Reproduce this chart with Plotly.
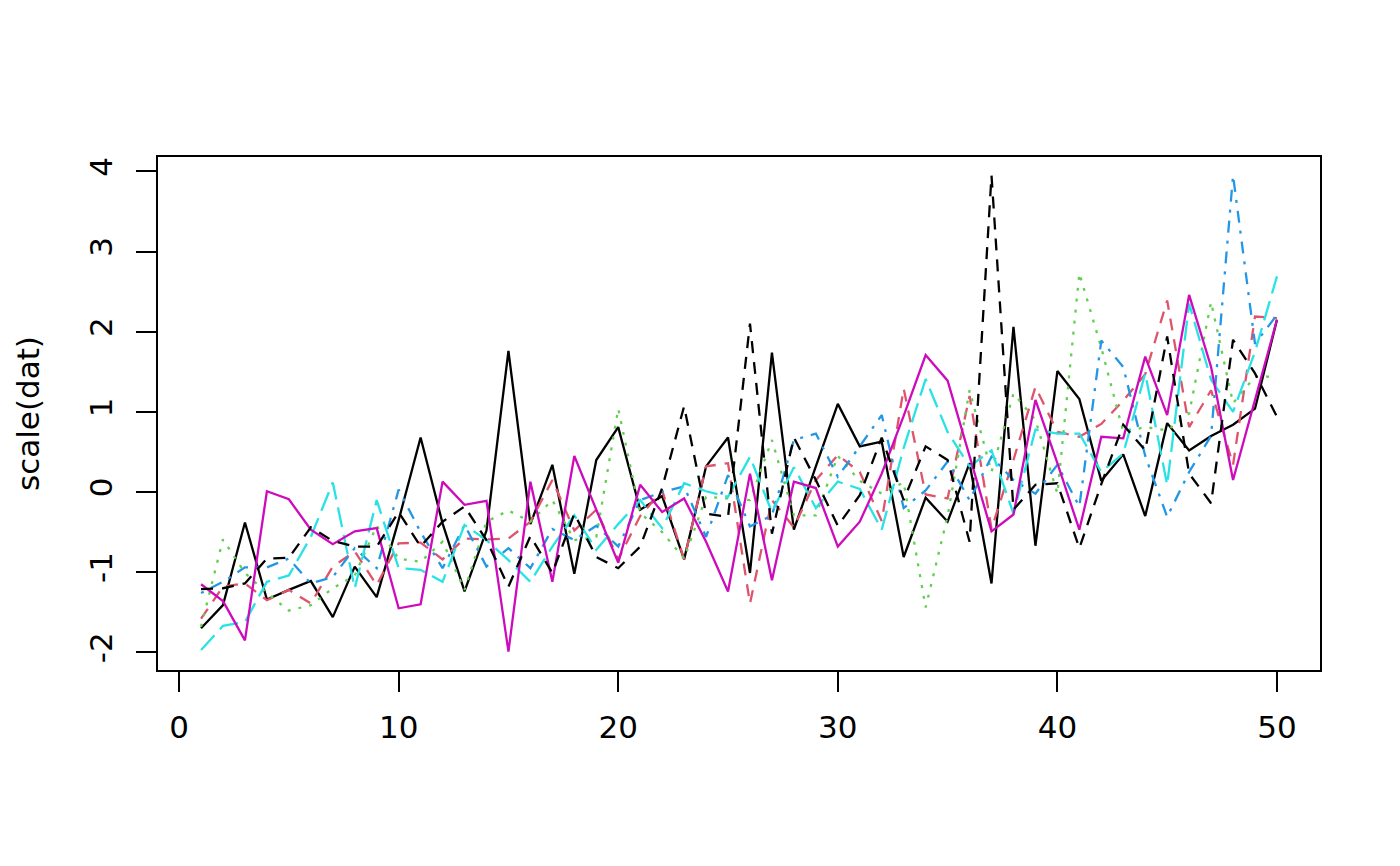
import plotly.graph_objects as go

# matplot(scale(dat), type="l") -- 7 columns, 50 rows
x = list(range(1, 51))

col1 = [-1.70, -1.41, -0.38, -1.34, -1.22, -1.11, -1.56, -0.93, -1.31, -0.35,
        0.68, -0.39, -1.24, -0.48, 1.76, -0.40, 0.34, -1.02, 0.40, 0.81,
        -0.22, -0.05, -0.84, 0.32, 0.68, -1.01, 1.74, -0.47, 0.32, 1.10,
        0.57, 0.63, -0.81, -0.07, -0.37, 0.36, -1.14, 2.06, -0.67, 1.51,
        1.16, 0.14, 0.47, -0.30, 0.86, 0.52, 0.70, 0.84, 1.04, 2.15]
col2 = [-1.58, -1.18, -1.14, -1.35, -1.22, -1.39, -0.93, -0.74, -1.16, -0.64,
        -0.63, -0.84, -0.58, -0.59, -0.58, -0.37, 0.15, -0.48, -0.22, -0.84,
        -0.30, 0.02, -0.84, 0.32, 0.36, -1.39, -0.10, -0.44, 0.15, 0.46,
        0.25, -0.36, 1.29, -0.03, -0.08, 1.20, -0.46, 0.40, 1.31, 0.75,
        0.69, 0.85, 1.14, 1.47, 2.39, 0.81, 1.27, 0.34, 2.19, 2.17]
col3 = [-1.68, -0.59, -1.01, -1.26, -1.48, -1.41, -1.20, -1.04, -0.42, -0.83,
        -0.87, -0.62, -1.22, -0.37, -0.23, -0.37, -0.10, -0.60, -0.56, 1.04,
        -0.26, -0.50, -0.83, -0.06, -0.08, -0.10, 0.65, -0.29, -0.29, 0.45,
        0.14, -0.02, 0.12, -1.44, -0.30, 1.27, 0.25, 1.23, 0.90, -0.02,
        2.73, 1.80, 0.75, 0.81, 0.77, 0.98, 2.37, 1.11, 1.44, 1.44]
col4 = [-1.26, -1.12, -0.94, -0.94, -0.83, -1.14, -1.06, -0.70, -0.95, 0.03,
        -0.50, -0.95, -0.41, -0.93, -0.70, -0.95, -0.46, -0.60, -0.42, -0.68,
        -0.10, 0.00, 0.07, -0.56, 0.21, -0.43, -0.29, 0.65, 0.73, 0.19,
        0.57, 0.96, -0.20, 0.02, 0.38, -0.10, 0.44, 0.15, -0.02, 0.34,
        -0.18, 1.89, 1.56, 0.45, -0.31, 0.25, 0.70, 3.95, 1.85, 2.21]
col5 = [-1.97, -1.67, -1.62, -1.12, -1.04, -0.56, 0.12, -1.20, -0.10, -0.95,
        -0.97, -1.12, -0.41, -0.60, -0.85, -1.12, -0.68, -0.29, -0.72, -0.40,
        -0.10, -0.45, 0.11, 0.01, -0.06, 0.44, -0.25, 0.31, -0.20, 0.13,
        0.04, -0.47, 0.55, 1.41, 0.75, 0.32, 0.52, -0.27, 0.78, 0.73,
        0.73, 0.25, 0.48, 1.48, 0.09, 2.35, 1.40, 1.00, 1.75, 2.69]
col6 = [-1.15, -1.36, -1.85, 0.01, -0.09, -0.47, -0.65, -0.49, -0.45, -1.45,
        -1.40, 0.13, -0.16, -0.11, -1.99, 0.13, -1.12, 0.45, -0.22, -0.88,
        0.09, -0.25, -0.08, -0.62, -1.24, 0.23, -1.10, 0.13, 0.05, -0.68,
        -0.37, 0.23, 0.95, 1.71, 1.39, 0.45, -0.49, -0.28, 1.15, 0.36,
        -0.47, 0.69, 0.67, 1.69, 0.96, 2.46, 1.56, 0.15, 1.15, 2.15]
col7 = [-1.21, -1.20, -1.14, -0.83, -0.82, -0.44, -0.61, -0.68, -0.68, -0.25,
        -0.68, -0.37, -0.18, -0.60, -1.18, -0.55, -1.01, -0.27, -0.81, -0.95,
        -0.68, 0.05, 1.07, -0.27, -0.31, 2.10, -0.52, 0.68, 0.15, -0.42,
        -0.04, 0.68, -0.10, 0.57, 0.40, -0.62, 3.95, -0.22, 0.09, 0.11,
        -0.70, 0.10, 0.84, 0.52, 1.94, 0.23, -0.14, 1.90, 1.48, 0.94]

xticks = [0, 10, 20, 30, 40, 50]
yticks = [-2, -1, 0, 1, 2, 3, 4]
ytick_text = ["-2", "-1", "0", "1", "2", "3", "4"]

columns = [col1, col2, col3, col4, col5, col6, col7]
# R default palette and lty 1:5 recycled
colors = ["#000000", "#DF536B", "#61D04F", "#2297E6", "#28E2E5", "#CD0BBC", "#000000"]
dashes = ["solid", "12px,9px", "3px,8px", "3px,8px,12px,8px", "20px,8px", "solid", "12px,9px"]

fig = go.Figure()
for y, c, d in zip(columns, colors, dashes):
    fig.add_trace(go.Scatter(x=x, y=y, mode="lines",
                             line=dict(color=c, width=2.3, dash=d),
                             showlegend=False, hoverinfo="skip"))

axis_style = dict(showline=True, linecolor="black", linewidth=2, mirror=True,
                  showgrid=False, zeroline=False, ticks="outside", ticklen=20,
                  tickwidth=2, tickcolor="black",
                  tickfont=dict(family="DejaVu Sans", size=31, color="black"))

# page body has an 8px margin, so the figure is a bit smaller than the window
fig.update_layout(
    width=1384, height=850,
    margin=dict(l=150, r=72, t=149, b=188),
    plot_bgcolor="white", paper_bgcolor="white",
    font=dict(family="DejaVu Sans", size=31, color="black"),
    xaxis=dict(range=[-0.96, 51.96], tickvals=xticks, ticklabelstandoff=9, **axis_style),
    yaxis=dict(range=[-2.22, 4.18], tickvals=yticks, ticktext=ytick_text,
               tickangle=-90, ticklabelstandoff=12,
               title=dict(text="scale(dat)", standoff=34,
                          font=dict(family="DejaVu Sans", size=31, color="black")),
               **axis_style),
)

fig.write_html("out.html")
